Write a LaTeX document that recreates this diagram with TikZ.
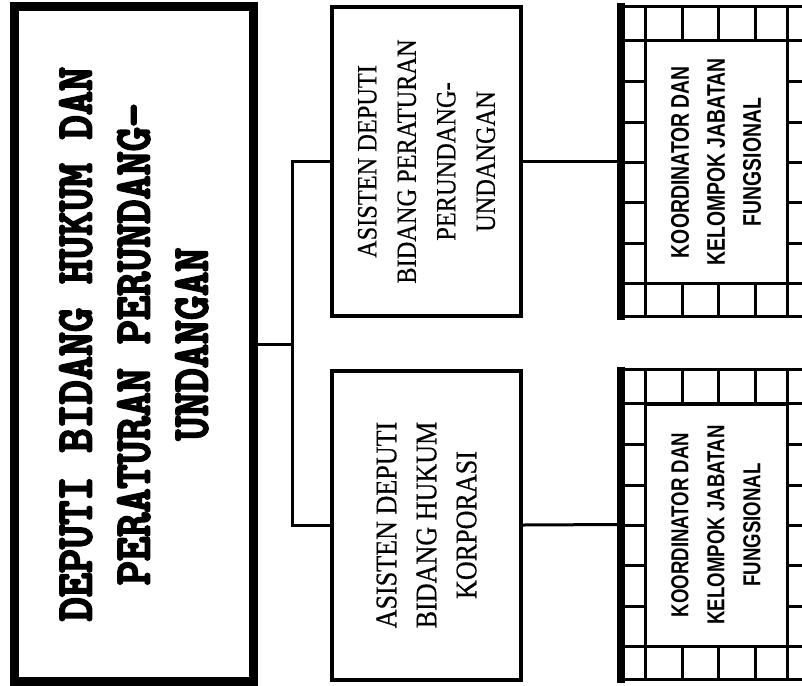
\documentclass[tikz,border=0pt]{standalone}
\usepackage{fontspec}
\newfontfamily\slabfont{lmmonolt10-bold.otf}[FakeStretch=0.9,FakeBold=4]
\newfontfamily\serfont{Liberation Serif}[FakeStretch=0.87,FakeBold=0.4]
\newfontfamily\condfont{Liberation Sans Bold}[FakeStretch=0.76]
\begin{document}
\begin{tikzpicture}[x=1pt,y=-1pt,
  mainbox/.style={draw, line width=9pt, inner sep=0pt, minimum width=238.5pt, minimum height=674pt},
  asbox/.style={draw, line width=4pt, inner sep=0pt, minimum width=189pt, minimum height=309pt},
  gridframe/.style={draw, line width=3pt, inner sep=0pt, minimum width=228pt, minimum height=310pt},
  innerbox/.style={draw, line width=3pt, inner sep=0pt, fill=white, minimum width=142pt, minimum height=242pt},
  conn/.style={line width=3pt},
  gl/.style={line width=3pt}]
\useasboundingbox (0,0) rectangle (802,685);
\clip (0,0) rectangle (802,685);
\fill[white] (0,0) rectangle (802,685);

% main box
\node[mainbox] (m) at (133.75,344) {\rotatebox{90}{\parbox{640pt}{\centering\slabfont\fontsize{51}{58}\selectfont
DEPUTI BIDANG HUKUM DAN\\PERATURAN PERUNDANG-\\UNDANGAN}}};

% assistant boxes
\node[asbox] (a1) at (426.5,161.5) {\rotatebox{90}{\parbox{300pt}{\centering\serfont\fontsize{28}{39.5}\selectfont
ASISTEN DEPUTI\\BIDANG PERATURAN\\PERUNDANG-\\UNDANGAN}}};
\node[asbox] (a2) at (426.5,525) {\rotatebox{90}{\parbox{300pt}{\centering\serfont\fontsize{30}{40}\selectfont
ASISTEN DEPUTI\\BIDANG HUKUM\\KORPORASI}}};

% grid boxes
\foreach \o/\n/\fs in {6.5/1/25.5, 369.5/2/24.5}{
  \node[gridframe] (g\n) at (736,\o+155) {};
  \foreach \x in {645,682,718,755,787,823}{
    \draw[gl] (\x,\o) -- (\x,\o+34);
    \draw[gl] (\x,\o+277) -- (\x,\o+310);
  }
  \draw[gl] (622,\o+34) -- (850,\o+34);
  \draw[gl] (622,\o+277) -- (850,\o+277);
  \foreach \yy in {75,115.5,155.5,196,237}{
    \draw[gl] (622,\o+\yy) -- (645,\o+\yy);
    \draw[gl] (787,\o+\yy) -- (850,\o+\yy);
  }
  \node[innerbox] (k\n) at (716,\o+155.5) {\rotatebox{90}{\parbox{240pt}{\centering\condfont\fontsize{\fs}{36}\selectfont
KOORDINATOR DAN\\KELOMPOK JABATAN\\FUNGSIONAL}}};
  \draw[line width=8pt] ([yshift=1.5pt]g\n.north west) -- ([yshift=-1.5pt]g\n.south west);
}

% connectors
\coordinate (j) at (292,344);
\draw[conn] (m.east) -- (j);
\draw[conn] (a1.west) -| (j) |- (a2.west);
\draw[conn] (a1.east) -- (g1.west);
\draw[conn] (a2.east) -- (g2.west);
\end{tikzpicture}
\end{document}
